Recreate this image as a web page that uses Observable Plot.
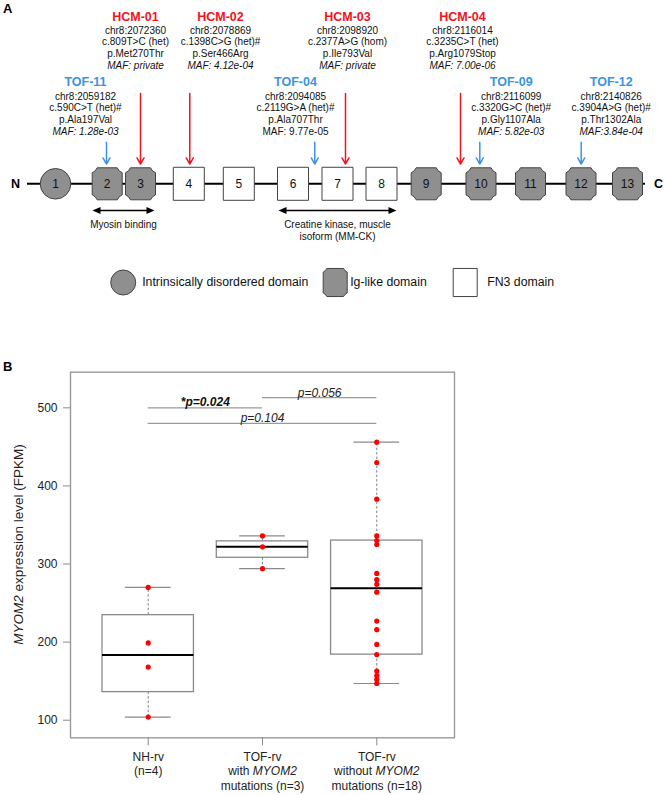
<!DOCTYPE html>
<html><head><meta charset="utf-8">
<script src="https://cdn.jsdelivr.net/npm/d3@7"></script>
<script src="https://cdn.jsdelivr.net/npm/@observablehq/plot@0.6"></script>
<style>
body{margin:0;background:#fff;font-family:Arial,"Liberation Sans",sans-serif}
#wrap{position:relative;width:664px;height:795px;overflow:hidden}
#a{position:absolute;left:0;top:0}
#b{position:absolute;left:0;top:300px}
.panel{position:absolute;font-weight:bold;font-size:13px;line-height:13px}
svg{display:block}
</style></head><body>
<div id="wrap">
<div id="a"></div><div id="b"></div>
<div class="panel" style="left:3px;top:2px">A</div>
<div class="panel" style="left:3px;top:360px">B</div>
</div>
<script>
// ================= Panel A data (schematic of MYOM2 protein) =================
const domainNumbers = [1,2,3,4,5,6,7,8,9,10,11,12,13];
const domainTypes = ["disordered","ig","ig","fn3","fn3","fn3","fn3","fn3","ig","ig","ig","ig","ig"];
const domainCenters = [55,106.7,140,188.3,238.3,292.5,337,381,425.7,480.5,530,580.5,627]; // schematic units
const backboneExtent = [27,645];

const variantIds = ["HCM-01","HCM-02","HCM-03","HCM-04","TOF-11","TOF-04","TOF-09","TOF-12"];
const variantCohort = ["HCM","HCM","HCM","HCM","TOF","TOF","TOF","TOF"];
const variantChr = ["chr8:2072360","chr8:2078869","chr8:2098920","chr8:2116014","chr8:2059182","chr8:2094085","chr8:2116099","chr8:2140826"];
const variantCdna = ["c.809T>C (het)","c.1398C>G (het)#","c.2377A>G (hom)","c.3235C>T (het)","c.590C>T (het)#","c.2119G>A (het)#","c.3320G>C (het)#","c.3904A>G (het)#"];
const variantProtein = ["p.Met270Thr","p.Ser466Arg","p.Ile793Val","p.Arg1079Stop","p.Ala197Val","p.Ala707Thr","p.Gly1107Ala","p.Thr1302Ala"];
const variantMaf = ["MAF: private","MAF: 4.12e-04","MAF: private","MAF: 7.00e-06","MAF: 1.28e-03","MAF: 9.77e-05","MAF: 5.82e-03","MAF:3.84e-04"];
const variantMafItalic = [true,true,true,true,true,false,true,true];
const variantSite = [140,189.3,345,460,106,314.3,479.3,580.7];   // schematic units
const variantLabelAt = [135,220,347,462,85,295,510.7,610.7];      // schematic units

const regionNames = ["Myosin binding","Creatine kinase, muscle\nisoform (MM-CK)"];
const regionStart = [92,278];
const regionEnd = [154,396];

const legendTypes = ["disordered","ig","fn3"];
const legendNames = ["Intrinsically disordered domain","Ig-like domain","FN3 domain"];
const legendAt = [122.7,334.7,464.7];

// ================= Panel B data =================
const groupLabels = ["NH-rv\n(n=4)","TOF-rv\nwith MYOM2\nmutations (n=3)","TOF-rv\nwithout MYOM2\nmutations (n=18)"];
const nhRv = [270,199,168,104];
const tofWithMut = [336,322,294];
const tofWithoutMut = [456,430,383,336,330,325,288,280,274,264,227,216,197,184,163,157,152,147];
const yTicks = [100,200,300,400,500];
const compLabels = ["*p=0.024","p=0.056","p=0.104"];
const compFrom = [1,2,1];
const compTo = [2,3,3];
const compLevel = [500,513,480];
const compBold = [true,false,false];

// ================= helpers =================
const FONT = 'Arial, "Liberation Sans", sans-serif';
const RED = "#f0141e", BLUE = "#3b93e3", GRAY = "#8f8f8f";

function shapeSymbol(aspect, cut){
  return {draw(ctx, size){
    const w = Math.sqrt(size/Math.PI), h = w*aspect, c = w*cut;
    if (!c){ ctx.moveTo(-w,-h); ctx.lineTo(w,-h); ctx.lineTo(w,h); ctx.lineTo(-w,h); ctx.closePath(); return; }
    const k = 0.72;
    ctx.moveTo(-w+c,-h); ctx.lineTo(w-c,-h);
    ctx.quadraticCurveTo(w-c*k,-h+c*k,w,-h+c); ctx.lineTo(w,h-c);
    ctx.quadraticCurveTo(w-c*k,h-c*k,w-c,h); ctx.lineTo(-w+c,h);
    ctx.quadraticCurveTo(-w+c*k,h-c*k,-w,h-c); ctx.lineTo(-w,-h+c);
    ctx.quadraticCurveTo(-w+c*k,-h+c*k,-w+c,-h); ctx.closePath();
  }};
}
const triRight = {draw(ctx,size){const s=Math.sqrt(size/Math.PI); ctx.moveTo(s,0); ctx.lineTo(-s,-s*0.9); ctx.lineTo(-s,s*0.9); ctx.closePath();}};
const triLeft = {draw(ctx,size){const s=Math.sqrt(size/Math.PI); ctx.moveTo(-s,0); ctx.lineTo(s,-s*0.9); ctx.lineTo(s,s*0.9); ctx.closePath();}};

function italicize(svg, word){
  svg.querySelectorAll("text, tspan").forEach(el => {
    if (el.children.length) return;
    const t = el.textContent; if (!t.includes(word)) return;
    const parts = t.split(word); el.textContent = "";
    parts.forEach((p,i) => {
      if (p) el.appendChild(document.createTextNode(p));
      if (i < parts.length-1){ const ts=document.createElementNS("http://www.w3.org/2000/svg","tspan"); ts.setAttribute("font-style","italic"); ts.textContent=word; el.appendChild(ts); }
    });
  });
}

// ================= Panel A =================
const domains = domainNumbers.map((n,i)=>({n, type:domainTypes[i], pos:domainCenters[i]}));
const variants = variantIds.map((id,i)=>({id, cohort:variantCohort[i], chr:variantChr[i], cdna:variantCdna[i], prot:variantProtein[i], maf:variantMaf[i], mafItalic:variantMafItalic[i], site:variantSite[i], at:variantLabelAt[i]}));
const regions = regionNames.map((name,i)=>({name, start:regionStart[i], end:regionEnd[i]}));
const legend = legendTypes.map((type,i)=>({type, name:legendNames[i], at:legendAt[i]}));

const TRACK = 183.3;
const titleY = {HCM:16, TOF:81.7};
const line0Y = {HCM:30, TOF:95.8};
const STEP = 11.7;
const arrowTop = {HCM:93, TOF:141.7};
const bodyLines = variants.flatMap(v => [v.chr, v.cdna, v.prot].map((t,j)=>({x:v.at, y:line0Y[v.cohort]+j*STEP, t})));
const mafLines = variants.map(v => ({x:v.at, y:line0Y[v.cohort]+3*STEP, t:v.maf, italic:v.mafItalic}));

const igSym = shapeSymbol(1.067, 0.33);
const fnSym = shapeSymbol(1.065, 0);
const igLegSym = shapeSymbol(1.17, 0.3);
const fnLegSym = shapeSymbol(1.17, 0);
const LEGY = 282;
const legendGap = {disordered:19, ig:15, fn3:22};

const plotA = Plot.plot({
  width:664, height:300, margin:0,
  x:{domain:[0,664], range:[0,664], axis:null},
  y:{domain:[0,300], range:[0,300], axis:null},
  style:{fontFamily:FONT, background:"transparent", color:"#000"},
  marks:[
    Plot.ruleY([TRACK], {x1:backboneExtent[0], x2:backboneExtent[1], stroke:"#000", strokeWidth:2}),
    Plot.text(["N"], {x:15, y:TRACK, text:d=>d, fontWeight:"bold", fontSize:12.5}),
    Plot.text(["C"], {x:658, y:TRACK, text:d=>d, fontWeight:"bold", fontSize:12.5}),
    Plot.dot(domains.filter(d=>d.type==="disordered"), {x:"pos", y:()=>TRACK, r:15.3, symbol:"circle", fill:GRAY, stroke:"#444", strokeWidth:1}),
    Plot.dot(domains.filter(d=>d.type==="ig"), {x:"pos", y:()=>TRACK, r:15, symbol:igSym, fill:GRAY, stroke:"#444", strokeWidth:1}),
    Plot.dot(domains.filter(d=>d.type==="fn3"), {x:"pos", y:()=>TRACK, r:15.5, symbol:fnSym, fill:"#fff", stroke:"#444", strokeWidth:1}),
    Plot.text(domains, {x:"pos", y:()=>TRACK, text:d=>String(d.n), fontSize:12, fill:"#111"}),
    // arrows
    Plot.arrow(variants.filter(v=>v.cohort==="HCM"), {x1:"site", x2:"site", y1:()=>arrowTop.HCM, y2:()=>163.5, stroke:RED, strokeWidth:1.5, headLength:7}),
    Plot.arrow(variants.filter(v=>v.cohort==="TOF"), {x1:"site", x2:"site", y1:()=>arrowTop.TOF, y2:()=>163.5, stroke:BLUE, strokeWidth:1.5, headLength:7}),
    // variant text
    Plot.text(variants.filter(v=>v.cohort==="HCM"), {x:"at", y:()=>titleY.HCM, text:"id", fill:RED, fontWeight:"bold", fontSize:12.5}),
    Plot.text(variants.filter(v=>v.cohort==="TOF"), {x:"at", y:()=>titleY.TOF, text:"id", fill:BLUE, fontWeight:"bold", fontSize:12.5}),
    Plot.text(bodyLines, {x:"x", y:"y", text:"t", fontSize:10, fill:"#111"}),
    Plot.text(mafLines.filter(d=>d.italic), {x:"x", y:"y", text:"t", fontSize:10, fontStyle:"italic", fill:"#111"}),
    Plot.text(mafLines.filter(d=>!d.italic), {x:"x", y:"y", text:"t", fontSize:10, fill:"#111"}),
    // region double arrows
    Plot.ruleY(regions, {x1:d=>d.start+4, x2:d=>d.end-4, y:()=>210, stroke:"#000", strokeWidth:1.3}),
    Plot.dot(regions, {x:d=>d.start+4, y:()=>210, r:4, symbol:triLeft, fill:"#000"}),
    Plot.dot(regions, {x:d=>d.end-4, y:()=>210, r:4, symbol:triRight, fill:"#000"}),
    Plot.text(regions, {x:d=>(d.start+d.end)/2, y:d=>d.name.includes("\n") ? 229.3 : 223.3, text:"name", lineAnchor:"middle", textAnchor:"middle", fontSize:10, lineHeight:1.2, fill:"#111"}),
    // legend
    Plot.dot(legend.filter(d=>d.type==="disordered"), {x:"at", y:()=>LEGY, r:12.5, symbol:"circle", fill:GRAY, stroke:"#444", strokeWidth:1}),
    Plot.dot(legend.filter(d=>d.type==="ig"), {x:"at", y:()=>LEGY, r:12, symbol:igLegSym, fill:GRAY, stroke:"#444", strokeWidth:1}),
    Plot.dot(legend.filter(d=>d.type==="fn3"), {x:"at", y:()=>LEGY, r:12, symbol:fnLegSym, fill:"#fff", stroke:"#444", strokeWidth:1}),
    Plot.text(legend, {x:d=>d.at + legendGap[d.type], y:()=>LEGY, text:"name", textAnchor:"start", fontSize:12.3, fill:"#111"})
  ]
});
document.getElementById("a").appendChild(plotA);

// ================= Panel B =================
const groups = [nhRv, tofWithMut, tofWithoutMut];
const pts = groups.flatMap((vals,i)=>vals.map(v=>({g:i+1, v})));
function fivenum(a){
  const s=[...a].sort((x,y)=>x-y), n=s.length;
  const n4=Math.floor((n+3)/2)/2;
  return [1,n4,(n+1)/2,n+1-n4,n].map(k=>0.5*(s[Math.floor(k)-1]+s[Math.ceil(k)-1]));
}
const stats = groups.map((v,i)=>{const [min,q1,med,q3,max]=fivenum(v); return {g:i+1,min,q1,med,q3,max};});
const comps = compLabels.map((label,i)=>({label, from:compFrom[i], to:compTo[i], level:compLevel[i], bold:compBold[i]}));
const BOXW = 0.4, CAPW = 0.2;

const plotB = Plot.plot({
  width:664, height:495,
  marginLeft:70, marginRight:210, marginTop:71.7, marginBottom:57.7,
  x:{domain:[0.32,3.68]},
  y:{domain:[77.5,545.6]},
  style:{fontFamily:FONT, fontSize:"12px", background:"transparent", color:"#000"},
  marks:[
    Plot.frame({stroke:"#9a9a9a", strokeWidth:1.4}),
    Plot.axisY({ticks:yTicks, tickSize:7, tickPadding:6, label:null, stroke:"#8a8a8a", fill:"#222", fontSize:12}),
    Plot.axisX({ticks:[1,2,3], tickFormat:d=>groupLabels[d-1], tickSize:8, tickPadding:5, lineHeight:1.2, label:null, stroke:"#8a8a8a", fill:"#222", fontSize:12}),
    Plot.text([0], {frameAnchor:"left", textAnchor:"middle", lineAnchor:"middle", text:()=>"MYOM2 expression level (FPKM)", rotate:-90, dx:-51.7, dy:-10.5, fontSize:13.5, fill:"#222"}),
    // whiskers
    Plot.ruleX(stats, {x:"g", y1:"q3", y2:"max", stroke:"#808080", strokeDasharray:"2.5,2", strokeWidth:1}),
    Plot.ruleX(stats, {x:"g", y1:"q1", y2:"min", stroke:"#808080", strokeDasharray:"2.5,2", strokeWidth:1}),
    Plot.ruleY(stats, {y:"max", x1:d=>d.g-CAPW, x2:d=>d.g+CAPW, stroke:"#8a8a8a", strokeWidth:1.2}),
    Plot.ruleY(stats, {y:"min", x1:d=>d.g-CAPW, x2:d=>d.g+CAPW, stroke:"#8a8a8a", strokeWidth:1.2}),
    // boxes
    Plot.rect(stats, {x1:d=>d.g-BOXW, x2:d=>d.g+BOXW, y1:"q1", y2:"q3", fill:"#fff", stroke:"#8a8a8a", strokeWidth:1.3}),
    Plot.ruleY(stats, {y:"med", x1:d=>d.g-BOXW, x2:d=>d.g+BOXW, stroke:"#000", strokeWidth:2}),
    // points
    Plot.dot(pts, {x:"g", y:"v", r:2.6, fill:"#ff0000"}),
    // comparison brackets
    Plot.ruleY(comps, {y:"level", x1:"from", x2:"to", stroke:"#9a9a9a", strokeWidth:1.2}),
    Plot.text(comps.filter(d=>d.bold), {x:d=>(d.from+d.to)/2, y:"level", text:"label", lineAnchor:"bottom", dy:-2, fontStyle:"italic", fontWeight:"bold", fontSize:12, fill:"#111"}),
    Plot.text(comps.filter(d=>!d.bold), {x:d=>(d.from+d.to)/2, y:"level", text:"label", lineAnchor:"bottom", dy:-1, fontStyle:"italic", fontSize:12, fill:"#222"})
  ]
});
document.getElementById("b").appendChild(plotB);
italicize(plotB, "MYOM2");
</script>
</body></html>
